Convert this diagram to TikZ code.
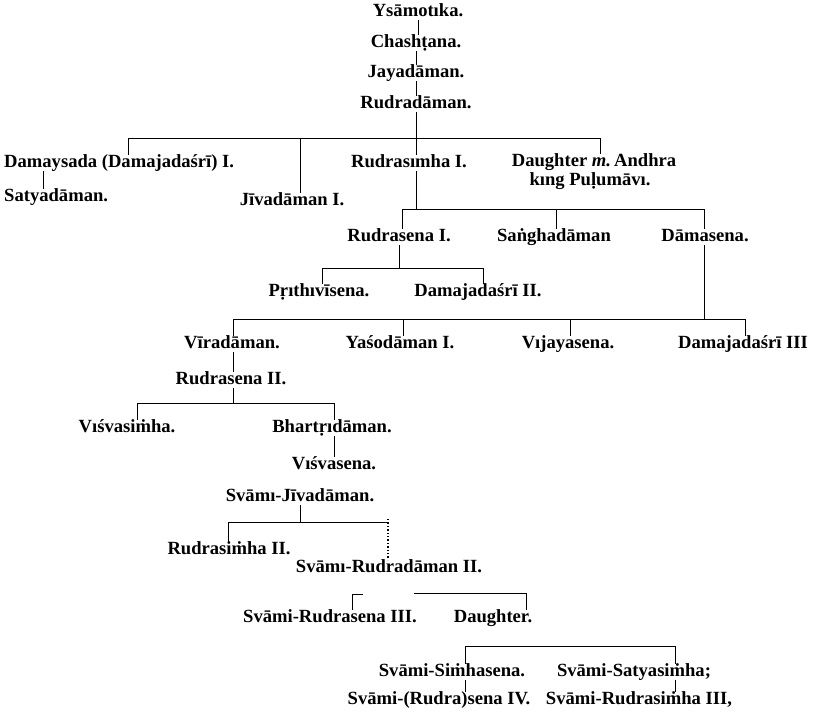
\documentclass[tikz,border=0pt]{standalone}
\usepackage{fontspec}
\setmainfont{Liberation Serif}
\begin{document}
\begin{tikzpicture}[x=1pt,y=-1pt,
  nm/.style={inner sep=0pt,text height=12.5pt,text depth=3.5pt,font=\bfseries\fontsize{18.6}{21}\selectfont},
  ln/.style={line width=0.8pt},
  dotln/.style={line width=1.4pt,dash pattern=on 1.4pt off 2pt}]
\useasboundingbox (0,0) rectangle (814,718);
% nodes
\node[nm] (ysam) at (418,12) {Ysāmotıka.};
\node[nm] (chash) at (416,43) {Chashṭana.};
\node[nm] (jaya) at (416,73) {Jayadāman.};
\node[nm] (rudra) at (416,104) {Rudradāman.};
\node[nm,anchor=west] (damay) at (4,163) {Damaysada (Damajadaśrī) I.};
\node[nm] (rsim1) at (409,163) {Rudrasımha I.};
\node[nm] (daught) at (594,162) {Daughter \textit{m.}\,Andhra};
\node[nm] (king) at (590,181) {kıng Puḷumāvı.};
\node[nm,anchor=west] (satya) at (4,197) {Satyadāman.};
\node[nm] (jiva) at (292,201) {Jīvadāman I.};
\node[nm] (rsena1) at (399,237) {Rudrasena I.};
\node[nm] (sangha) at (554,237) {Saṅghadāman};
\node[nm] (dama) at (705,237) {Dāmasena.};
\node[nm] (prith) at (319,292) {Pṛıthıvīsena.};
\node[nm] (dmj2) at (478,292) {Damajadaśrī II.};
\node[nm] (vira) at (232,344) {Vīradāman.};
\node[nm] (yaso) at (400,344) {Yaśodāman I.};
\node[nm] (vija) at (568,344) {Vıjayasena.};
\node[nm] (dmj3) at (743,344) {Damajadaśrī III};
\node[nm] (rsena2) at (231,380) {Rudrasena II.};
\node[nm] (visim) at (127,428) {Vıśvasiṁha.};
\node[nm] (bhart) at (332,428) {Bhartṛıdāman.};
\node[nm] (visena) at (334,465) {Vıśvasena.};
\node[nm] (sjiva) at (300,497) {Svāmı-Jīvadāman.};
\node[nm] (rsim2) at (229,550) {Rudrasiṁha II.};
\node[nm] (srud2) at (389,568) {Svāmı-Rudradāman II.};
\node[nm] (srs3) at (330,618) {Svāmi-Rudrasena III.};
\node[nm] (dtr) at (493,618) {Daughter.};
\node[nm] (ssim) at (452,672) {Svāmi-Siṁhasena.};
\node[nm] (ssat) at (634,672) {Svāmi-Satyasiṁha;};
\node[nm] (srs4) at (439,700) {Svāmi-(Rudra)sena IV.};
\node[nm] (srsim3) at (639,700) {Svāmi-Rudrasiṁha III,};
% junction coordinates
\coordinate (b1L) at (128,138); \coordinate (b1R) at (600,138);
\coordinate (b1J) at (300,138); \coordinate (b1R1) at (416,138);
\coordinate (vDS) at (43,0);
\coordinate (b2L) at (402,209); \coordinate (b2M) at (556,209); \coordinate (b2R) at (704,209);
\coordinate (b3L) at (322,268); \coordinate (b3R) at (483,268);
\coordinate (b4L) at (233,319); \coordinate (b4A) at (403,319); \coordinate (b4B) at (570,319); \coordinate (b4R) at (745,319);
\coordinate (b5L) at (137,403); \coordinate (b5R) at (334,403);
\coordinate (b6L) at (228,522); \coordinate (b6R) at (388,522);
\coordinate (b7a) at (352,594); \coordinate (b7b) at (363,594);
\coordinate (b7c) at (414,593); \coordinate (b7d) at (526,593);
\coordinate (b8L) at (465,646); \coordinate (b8R) at (675,646);
% connectors
\begin{scope}[ln]
\draw (ysam.south) -- (ysam.south |- chash.north);
\draw (jaya.north) -- (jaya.north |- chash.south);
\draw (jaya.south) -- (jaya.south |- rudra.north);
\draw (rudra.south) -- (rudra.south |- b1L);
\draw (b1L) -- (b1R);
\draw (b1L) -- (b1L |- damay.north);
\draw (b1J) -- (b1J |- jiva.north);
\draw (b1R1) -- (b1R1 |- rsim1.north);
\draw (b1R) -- (b1R |- daught.north);
\draw (vDS |- damay.south) -- (vDS |- satya.north);
\draw (b1R1 |- rsim1.south) -- (b1R1 |- b2L);
\draw (b2L) -- (b2R);
\draw (b2L) -- (b2L |- rsena1.north);
\draw (b2M) -- (b2M |- sangha.north);
\draw (b2R) -- (b2R |- dama.north);
\draw (rsena1.south) -- (rsena1.south |- b3L);
\draw (b3L) -- (b3R);
\draw (b3L) -- (b3L |- prith.north);
\draw (b3R) -- (b3R |- dmj2.north);
\draw (b2R |- dama.south) -- (b2R |- b4L);
\draw (b4L) -- (b4R);
\draw (b4L) -- (b4L |- vira.north);
\draw (b4A) -- (b4A |- yaso.north);
\draw (b4B) -- (b4B |- vija.north);
\draw (b4R) -- (b4R |- dmj3.north);
\draw (b4L |- vira.south) -- (b4L |- rsena2.north);
\draw (b4L |- rsena2.south) -- (b4L |- b5L);
\draw (b5L) -- (b5R);
\draw (b5L) -- (b5L |- visim.north);
\draw (b5R) -- (b5R |- bhart.north);
\draw (b5R |- bhart.south) -- (b5R |- visena.north);
\draw (sjiva.south) -- (sjiva.south |- b6L);
\draw (b6L) -- (b6R);
\draw (b6L) -- (b6L |- rsim2.north);
\draw[dotln] ([yshift=3pt]b6R) -- (b6R |- srud2.north);
\draw (b7a) -- (b7b);
\draw (b7c) -- (b7d);
\draw (b7a) -- (b7a |- srs3.north);
\draw (b7d) -- (b7d |- dtr.north);
\draw (b8L) -- (b8R);
\draw (b8L) -- (b8L |- ssim.north);
\draw (b8R) -- (b8R |- ssat.north);
\draw (b8L |- ssim.south) -- (b8L |- srs4.north);
\draw (b8R |- ssat.south) -- (b8R |- srsim3.north);
\end{scope}
\end{tikzpicture}
\end{document}
